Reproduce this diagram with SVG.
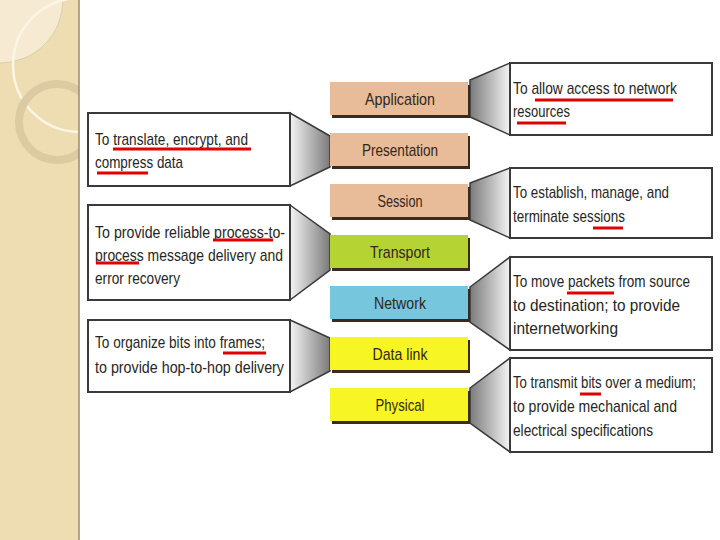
<svg xmlns="http://www.w3.org/2000/svg" width="720" height="540" viewBox="0 0 720 540">
  <style>
    .lbl { font-family: "Liberation Sans Narrow", "Liberation Sans", Arial, sans-serif; font-size: 17px; fill: #33261b; text-anchor: middle; }
    .txt { font-family: "Liberation Sans Narrow", "Liberation Sans", Arial, sans-serif; font-size: 17px; fill: #262626; }
    .box { fill: #ffffff; stroke: #3a3a3a; stroke-width: 2; }
    .shadow { fill: #3b2b1e; }
    .ul { stroke: #e00000; stroke-width: 3; }
    .trapL { fill: url(#gL); stroke: #3a3a3a; stroke-width: 1.5; }
    .trapR { fill: url(#gR); stroke: #3a3a3a; stroke-width: 1.5; }
  </style>
  <defs>
    <linearGradient id="gL" x1="0" y1="0" x2="1" y2="0">
      <stop offset="0" stop-color="#f4f4f4"/>
      <stop offset="1" stop-color="#7a7a7a"/>
    </linearGradient>
    <linearGradient id="gR" x1="0" y1="0" x2="1" y2="0">
      <stop offset="0" stop-color="#7a7a7a"/>
      <stop offset="1" stop-color="#f4f4f4"/>
    </linearGradient>
    <clipPath id="side"><rect x="0" y="0" width="79" height="540"/></clipPath>
  </defs>

  <rect x="0" y="0" width="720" height="540" fill="#ffffff"/>

  <!-- sidebar -->
  <g id="sidebar">
    <rect x="0" y="0" width="79" height="540" fill="#eedcb3"/>
    <g clip-path="url(#side)">
      <circle cx="0" cy="0" r="63" fill="#f6ebd2" stroke="#d8c6a0" stroke-width="0.8"/>
      <circle cx="80" cy="65" r="67" fill="none" stroke="#fbf5e6" stroke-width="2.5"/>
      <circle cx="57" cy="122" r="38" fill="none" stroke="#dccaa2" stroke-width="8"/>
    </g>
    <line x1="79" y1="0" x2="79" y2="540" stroke="#9c8a68" stroke-width="1.5"/>
  </g>

  <!-- connectors (callout wedges) -->
  <g id="connectors">
    <polygon class="trapL" points="290,113 330,136 330,167 290,186"/>
    <polygon class="trapL" points="290,205 330,234 330,270 290,300"/>
    <polygon class="trapL" points="290,320 330,338 330,371 290,392"/>
    <polygon class="trapR" points="470,80 510,63 510,135 470,117"/>
    <polygon class="trapR" points="470,183 510,168 510,238 470,220"/>
    <polygon class="trapR" points="470,287 510,257 510,350 470,322"/>
    <polygon class="trapR" points="470,388 510,358 510,452 470,423"/>
  </g>

  <!-- layers -->
  <g id="application">
    <rect class="shadow" x="332" y="85" width="138" height="33"/>
    <rect x="330" y="82" width="138" height="33" fill="#e8bc98"/>
    <text class="lbl" x="400" y="105" textLength="70" lengthAdjust="spacingAndGlyphs">Application</text>
  </g>
  <g id="presentation">
    <rect class="shadow" x="332" y="136" width="138" height="33"/>
    <rect x="330" y="133" width="138" height="33" fill="#e8bc98"/>
    <text class="lbl" x="400" y="156" textLength="76" lengthAdjust="spacingAndGlyphs">Presentation</text>
  </g>
  <g id="session">
    <rect class="shadow" x="332" y="187" width="138" height="33"/>
    <rect x="330" y="184" width="138" height="33" fill="#e8bc98"/>
    <text class="lbl" x="400" y="207" textLength="45" lengthAdjust="spacingAndGlyphs">Session</text>
  </g>
  <g id="transport">
    <rect class="shadow" x="332" y="238" width="138" height="33"/>
    <rect x="330" y="235" width="138" height="33" fill="#b6d334"/>
    <text class="lbl" x="400" y="258" textLength="60" lengthAdjust="spacingAndGlyphs">Transport</text>
  </g>
  <g id="network">
    <rect class="shadow" x="332" y="289" width="138" height="33"/>
    <rect x="330" y="286" width="138" height="33" fill="#76c6de"/>
    <text class="lbl" x="400" y="309" textLength="52" lengthAdjust="spacingAndGlyphs">Network</text>
  </g>
  <g id="datalink">
    <rect class="shadow" x="332" y="340" width="138" height="33"/>
    <rect x="330" y="337" width="138" height="33" fill="#f7f523"/>
    <text class="lbl" x="400" y="360" textLength="55" lengthAdjust="spacingAndGlyphs">Data link</text>
  </g>
  <g id="physical">
    <rect class="shadow" x="332" y="391" width="138" height="33"/>
    <rect x="330" y="388" width="138" height="33" fill="#f7f523"/>
    <text class="lbl" x="400" y="411" textLength="49" lengthAdjust="spacingAndGlyphs">Physical</text>
  </g>

  <!-- left callouts -->
  <g id="desc-presentation">
    <rect class="box" x="88" y="113" width="202" height="73"/>
    <text class="txt" x="95" y="145" textLength="153" lengthAdjust="spacingAndGlyphs">To translate, encrypt, and</text>
    <text class="txt" x="95" y="168" textLength="88" lengthAdjust="spacingAndGlyphs">compress data</text>
    <line class="ul" x1="113" y1="149" x2="251" y2="149"/>
    <line class="ul" x1="97" y1="173" x2="148" y2="173"/>
  </g>
  <g id="desc-transport">
    <rect class="box" x="88" y="205" width="202" height="95"/>
    <text class="txt" x="95" y="238" textLength="190" lengthAdjust="spacingAndGlyphs">To provide reliable process-to-</text>
    <text class="txt" x="95" y="261" textLength="188" lengthAdjust="spacingAndGlyphs">process message delivery and</text>
    <text class="txt" x="95" y="284" textLength="85" lengthAdjust="spacingAndGlyphs">error recovery</text>
    <line class="ul" x1="213" y1="240" x2="273" y2="240"/>
    <line class="ul" x1="96" y1="263" x2="139" y2="263"/>
  </g>
  <g id="desc-datalink">
    <rect class="box" x="88" y="320" width="202" height="72"/>
    <text class="txt" x="95" y="348" textLength="170" lengthAdjust="spacingAndGlyphs">To organize bits into frames;</text>
    <text class="txt" x="95" y="373" textLength="189" lengthAdjust="spacingAndGlyphs">to provide hop-to-hop delivery</text>
    <line class="ul" x1="223" y1="353" x2="266" y2="353"/>
  </g>

  <!-- right callouts -->
  <g id="desc-application">
    <rect class="box" x="510" y="63" width="202" height="72"/>
    <text class="txt" x="513" y="94" textLength="164" lengthAdjust="spacingAndGlyphs">To allow access to network</text>
    <text class="txt" x="513" y="117" textLength="57" lengthAdjust="spacingAndGlyphs">resources</text>
    <line class="ul" x1="535" y1="100" x2="673" y2="100"/>
    <line class="ul" x1="517" y1="123" x2="566" y2="123"/>
  </g>
  <g id="desc-session">
    <rect class="box" x="510" y="168" width="202" height="70"/>
    <text class="txt" x="513" y="198" textLength="156" lengthAdjust="spacingAndGlyphs">To establish, manage, and</text>
    <text class="txt" x="513" y="222" textLength="112" lengthAdjust="spacingAndGlyphs">terminate sessions</text>
    <line class="ul" x1="593" y1="228" x2="623" y2="228"/>
  </g>
  <g id="desc-network">
    <rect class="box" x="510" y="257" width="202" height="93"/>
    <text class="txt" x="513" y="287" textLength="177" lengthAdjust="spacingAndGlyphs">To move packets from source</text>
    <text class="txt" x="513" y="311" textLength="167" lengthAdjust="spacingAndGlyphs">to destination; to provide</text>
    <text class="txt" x="513" y="334" textLength="105" lengthAdjust="spacingAndGlyphs">internetworking</text>
    <line class="ul" x1="567" y1="293" x2="614" y2="293"/>
  </g>
  <g id="desc-physical">
    <rect class="box" x="510" y="358" width="202" height="94"/>
    <text class="txt" x="513" y="388" textLength="183" lengthAdjust="spacingAndGlyphs">To transmit bits over a medium;</text>
    <text class="txt" x="513" y="412" textLength="164" lengthAdjust="spacingAndGlyphs">to provide mechanical and</text>
    <text class="txt" x="513" y="436" textLength="140" lengthAdjust="spacingAndGlyphs">electrical specifications</text>
    <line class="ul" x1="580" y1="394" x2="601" y2="394"/>
  </g>
</svg>
